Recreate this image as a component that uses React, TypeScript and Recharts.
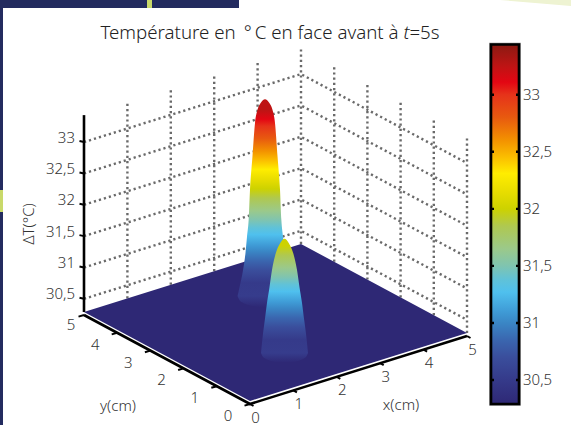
import React from "react";
import { Area, ComposedChart, Line, ReferenceArea, Scatter, XAxis, YAxis } from "recharts";

// ---- values ----
const cmTicks = [0, 1, 2, 3, 4, 5];
const tempTicks = [30.5, 31, 31.5, 32, 32.5, 33];
const tempMin = 30.29;
const tempMax = 33.43;

const peakOneCentre = { x: 3.066, y: 3.556 };
const peakOneTemps = [33.43, 33.37, 33.26, 33.05, 32.51, 31.98, 31.5, 31.23, 30.98, 30.7, 30.43, 30.29];
const peakOneRadii = [0, 0.08, 0.137, 0.183, 0.23, 0.275, 0.3, 0.33, 0.357, 0.403, 0.467, 0.503];

const peakTwoCentre = { x: 1.804, y: 1.319 };
const peakTwoTemps = [32.11, 32.04, 31.88, 31.61, 31.34, 31.09, 30.82, 30.55, 30.29];
const peakTwoRadii = [0, 0.08, 0.16, 0.23, 0.275, 0.32, 0.36, 0.4, 0.43];

const colourTemps = [33.44, 33.25, 33.11, 33, 32.8, 32.6, 32.45, 32.31, 32.15, 32, 31.85, 31.65, 31.5, 31.38, 31.27, 31.1, 31, 30.85, 30.7, 30.5, 30.29];
const colourValues = ["#8a1a12", "#be1414", "#e30613", "#e6331a", "#e85a0f", "#f39200", "#fbbf00", "#ffed00", "#e8dd00", "#cdd200", "#afc850", "#9bc98a", "#7fc4b0", "#60c2d8", "#4fc0ee", "#3f9bd6", "#3a86c5", "#3a66af", "#3a4e9c", "#353a8a", "#2e2875"];

const titleStart = "Température en \u2009°\u2009C en face avant à ";
const titleItalic = "t";
const titleEnd = "=5s";
const FLOOR = "#2e2875";
const PEAK_RIM = "#363c8c";

// ---- view: orthographic projection of (x cm, y cm, T °C) to the page ----
const VIEW = { ox: 250, oy: 401, xx: 43.4, xy: -13.6, yx: -33.2, yy: -17.8, zk: 62.7 };
const project = (x: number, y: number, t: number = tempMin) => ({
  sx: VIEW.ox + VIEW.xx * x + VIEW.yx * y,
  sy: VIEW.oy + VIEW.xy * x + VIEW.yy * y - (t - tempMin) * VIEW.zk,
});
const AXIS_DROP = 3;
const RADIUS_SX = 54.6;
const RADIUS_SY = 22.4;
const comma = (v: number) => String(v).replace(".", ",");

// walls
const wallLines: { sx: number; sy: number }[][] = [];
tempTicks.forEach((t) => {
  wallLines.push([project(0, 5, t), project(5, 5, t), project(5, 0, t)]);
});
cmTicks.slice(1).forEach((c) => {
  wallLines.push([project(c, 5, tempMin), project(c, 5, tempMax)]);
});
cmTicks.slice(0, 5).forEach((c) => {
  wallLines.push([project(5, c, tempMin), project(5, c, tempMax)]);
});

// floor drawn as a band between its upper and lower edges
const fL = project(0, 5);
const fF = project(0, 0);
const fB = project(5, 5);
const fR = project(5, 0);
const edge = (a: any, b: any, sx: number) => a.sy + ((b.sy - a.sy) * (sx - a.sx)) / (b.sx - a.sx);
const floorBand = [
  { sx: fL.sx, band: [fL.sy, fL.sy] },
  { sx: fF.sx, band: [edge(fL, fB, fF.sx), fF.sy] },
  { sx: fB.sx, band: [fB.sy, edge(fF, fR, fB.sx)] },
  { sx: fR.sx, band: [fR.sy, fR.sy] },
];

const peakBand = (centre: { x: number; y: number }, temps: number[], radii: number[]) => {
  const c = project(centre.x, centre.y);
  const r0 = radii[radii.length - 1];
  const a = r0 * RADIUS_SX;
  const b = r0 * RADIUS_SY;
  const row = (i: number, sign: number) => {
    const dx = radii[i] * RADIUS_SX;
    const rim = c.sy + b * Math.sqrt(Math.max(0, 1 - (dx / a) ** 2));
    return { sx: c.sx + sign * dx, band: [project(centre.x, centre.y, temps[i]).sy, rim] };
  };
  const idx = temps.map((_, i) => i);
  return [...idx.slice().reverse().map((i) => row(i, -1)), ...idx.slice(1).map((i) => row(i, 1))];
};

const PeakGradient = ({ id, centre, temps, radii }: any) => {
  const y1 = project(centre.x, centre.y, temps[0]).sy;
  const base = project(centre.x, centre.y).sy;
  const y2 = base + radii[radii.length - 1] * RADIUS_SY;
  return (
    <linearGradient id={id} gradientUnits="userSpaceOnUse" x1="0" x2="0" y1={y1} y2={y2}>
      {colourTemps.map((t, i) =>
        t <= temps[0] && t > tempMin ? (
          <stop key={t} offset={(project(centre.x, centre.y, t).sy - y1) / (y2 - y1)} stopColor={colourValues[i]} />
        ) : null
      )}
      <stop offset={(base - y1) / (y2 - y1)} stopColor={PEAK_RIM} />
      <stop offset={1} stopColor={FLOOR} />
    </linearGradient>
  );
};

// axis lines and nubs
const drop = (p: { sx: number; sy: number }) => ({ sx: p.sx, sy: p.sy + AXIS_DROP });
const solidLines = [
  [drop(project(0, 5)), drop(project(0, 0)), drop(project(5, 0))],
  [project(0, 5), project(0, 5, tempMax)],
];
const thinLines: { sx: number; sy: number }[][] = [];
cmTicks.forEach((c) => {
  const p = drop(project(c, 0));
  thinLines.push([p, { sx: p.sx + 3.5, sy: p.sy + 2 }]);
  const q = drop(project(0, c));
  thinLines.push([q, { sx: q.sx - 5.5, sy: q.sy + 1.6 }]);
});
tempTicks.forEach((t) => {
  const p = project(0, 5, t);
  thinLines.push([p, { sx: p.sx - 4.5, sy: p.sy - 1 }]);
});

// text
const labels: any[] = [];
cmTicks.forEach((c) => {
  const px = project(c, 0);
  labels.push({ sx: px.sx + 5.5, sy: px.sy + 15.5, text: String(c), anchor: "middle" });
  const py = project(0, c);
  labels.push({ sx: py.sx + (c === 5 ? -13 : -22), sy: py.sy + (c === 5 ? 11.5 : 14), text: String(c), anchor: "middle" });
});
tempTicks.forEach((t) => {
  labels.push({ sx: 75, sy: project(0, 5, t).sy - 5.5, text: comma(t), anchor: "end" });
});
labels.push({ sx: 118, sy: 405, text: "y(cm)", anchor: "middle" });
labels.push({ sx: 401, sy: 404, text: "x(cm)", anchor: "middle" });
labels.push({ sx: 28, sy: 224, text: "ΔT(°C)", anchor: "middle", rotate: -90 });
labels.push({ sx: 270, sy: 31, title: true, anchor: "middle" });

const FONT = '"Noto Sans", sans-serif';
const TICK_FONT_SIZE = 15;
const TextMark = (p: any) => {
  const d = p.payload ?? p;
  const common = {
    x: p.cx,
    y: p.cy,
    textAnchor: d.anchor,
    dominantBaseline: "central" as const,
    fontFamily: FONT,
    fontWeight: 300,
    fill: "#333",
  };
  if (d.title) {
    return (
      <text {...common} fontSize={18.7} fill="#222">
        {titleStart}
        <tspan fontStyle="italic">{titleItalic}</tspan>
        {titleEnd}
      </text>
    );
  }
  return (
    <text {...common} fontSize={TICK_FONT_SIZE} transform={d.rotate ? `rotate(${d.rotate} ${p.cx} ${p.cy})` : undefined}>
      {d.text}
    </text>
  );
};

const sceneProps = { width: 571, height: 425, margin: { top: 0, right: 0, bottom: 0, left: 0 } };
const layer: React.CSSProperties = { position: "absolute", left: 0, top: 0 };
const block = (l: number, t: number, w: number, h: number, bg: string): React.CSSProperties => ({
  position: "absolute", left: l, top: t, width: w, height: h, background: bg,
});

const barTickRows = (a: number, b: number) => (t: number) => [{ bx: a, bt: t }, { bx: b, bt: t }];

export default function App() {
  return (
    <div style={{ position: "absolute", left: 0, top: 0, width: 571, height: 425, background: "#fff", overflow: "hidden" }}>
      <div style={block(0, 0, 239, 8, "#232b5f")} />
      <div style={block(147, 0, 5, 8, "#c9d96a")} />
      <div style={block(0, 0, 3, 425, "#232b5f")} />
      <div style={block(0, 190, 3, 22, "#c9d96a")} />
      <div style={{ ...block(500, 0, 71, 6, "#eef3d2"), clipPath: "polygon(0 0, 100% 0, 100% 100%)" }} />

      <div style={layer}>
        <ComposedChart {...sceneProps}>
          <XAxis hide type="number" dataKey="sx" domain={[0, 571]} allowDataOverflow />
          <YAxis hide type="number" dataKey="sy" domain={[0, 425]} reversed allowDataOverflow />
          {wallLines.map((pts, i) => (
            <Line key={i} data={pts} dataKey="sy" dot={false} activeDot={false} stroke="#6a6a6a" strokeWidth={2.4} strokeDasharray="2.2 3" isAnimationActive={false} />
          ))}
        </ComposedChart>
      </div>

      <div style={layer}>
        <ComposedChart {...sceneProps}>
          <defs>
            <PeakGradient id="peakOne" centre={peakOneCentre} temps={peakOneTemps} radii={peakOneRadii} />
            <PeakGradient id="peakTwo" centre={peakTwoCentre} temps={peakTwoTemps} radii={peakTwoRadii} />
          </defs>
          <XAxis hide type="number" dataKey="sx" domain={[0, 571]} allowDataOverflow />
          <YAxis hide type="number" dataKey="sy" domain={[0, 425]} reversed allowDataOverflow />
          <Area data={floorBand} dataKey="band" type="linear" stroke="none" fill={FLOOR} fillOpacity={1} dot={false} activeDot={false} isAnimationActive={false} />
          <Area data={peakBand(peakOneCentre, peakOneTemps, peakOneRadii)} dataKey="band" type="monotone" stroke="none" fill="url(#peakOne)" fillOpacity={1} dot={false} activeDot={false} isAnimationActive={false} />
          <Area data={peakBand(peakTwoCentre, peakTwoTemps, peakTwoRadii)} dataKey="band" type="monotone" stroke="none" fill="url(#peakTwo)" fillOpacity={1} dot={false} activeDot={false} isAnimationActive={false} />
          {solidLines.map((pts, i) => (
            <Line key={i} data={pts} dataKey="sy" dot={false} activeDot={false} stroke="#000" strokeWidth={2.6} isAnimationActive={false} />
          ))}
          {thinLines.map((pts, i) => (
            <Line key={i} data={pts} dataKey="sy" dot={false} activeDot={false} stroke="#000" strokeWidth={2} isAnimationActive={false} />
          ))}
          <Scatter data={labels} shape={TextMark} isAnimationActive={false} />
        </ComposedChart>
      </div>

      <div style={{ position: "absolute", left: 470, top: 0 }}>
        <ComposedChart width={101} height={425} margin={{ top: 44.5, right: 0, bottom: 21, left: 21 }}>
          <defs>
            <linearGradient id="colourBar" x1="0" x2="0" y1="0" y2="1">
              {colourTemps.map((t, i) => (
                <stop key={t} offset={(33.44 - t) / (33.44 - 30.29)} stopColor={colourValues[i]} />
              ))}
            </linearGradient>
          </defs>
          <XAxis hide type="number" dataKey="bx" domain={[0, 28]} />
          <YAxis
            orientation="right"
            type="number"
            width={52}
            domain={[30.29, 33.44]}
            ticks={tempTicks}
            tickFormatter={comma}
            axisLine={false}
            tickLine={false}
            tickSize={0}
            tickMargin={4}
            tick={{ fontFamily: FONT, fontWeight: 300, fontSize: TICK_FONT_SIZE, fill: "#333" }}
            interval={0}
          />
          <ReferenceArea x1={0} x2={28} y1={30.29} y2={33.44} fill="none" stroke="#8a8a8a" strokeWidth={3.6} />
          <ReferenceArea x1={0} x2={28} y1={30.29} y2={33.44} fill="url(#colourBar)" fillOpacity={1} stroke="#000" strokeWidth={2.6} />
          {tempTicks.map((t) => (
            <Line key={"l" + t} data={barTickRows(1, 3)(t)} dataKey="bt" dot={false} activeDot={false} stroke="#000" strokeWidth={2.4} isAnimationActive={false} />
          ))}
          {tempTicks.map((t) => (
            <Line key={"r" + t} data={barTickRows(25, 27)(t)} dataKey="bt" dot={false} activeDot={false} stroke="#000" strokeWidth={2.4} isAnimationActive={false} />
          ))}
        </ComposedChart>
      </div>
    </div>
  );
}
